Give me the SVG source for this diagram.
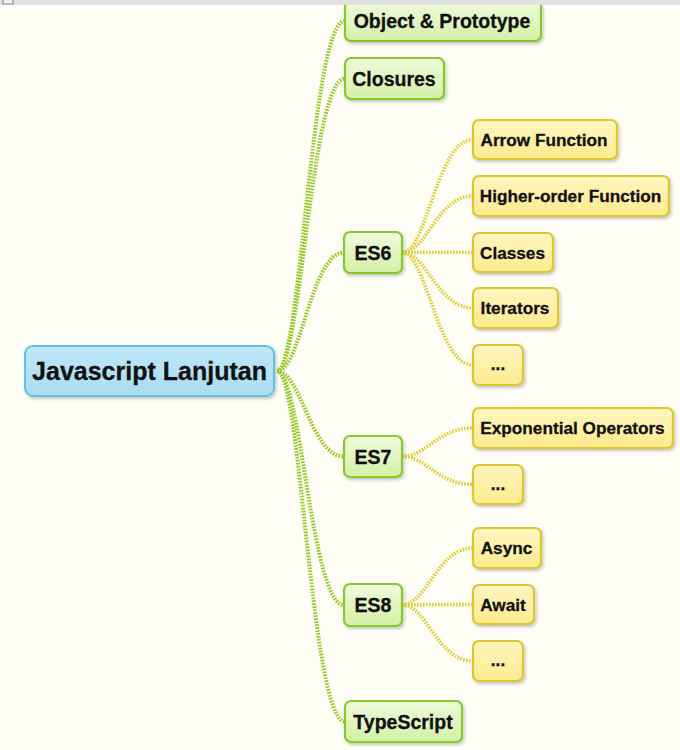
<svg xmlns="http://www.w3.org/2000/svg" width="680" height="750" viewBox="0 0 680 750">
<defs>
  <linearGradient id="gGreen" x1="0" y1="0" x2="0" y2="1">
    <stop offset="0" stop-color="#effbdd"/>
    <stop offset="1" stop-color="#d3f0a6"/>
  </linearGradient>
  <linearGradient id="gYellow" x1="0" y1="0" x2="0" y2="1">
    <stop offset="0" stop-color="#fff6c0"/>
    <stop offset="1" stop-color="#fdeb8e"/>
  </linearGradient>
  <linearGradient id="gBlue" x1="0" y1="0" x2="0" y2="1">
    <stop offset="0" stop-color="#bfe7f8"/>
    <stop offset="1" stop-color="#a9dcf3"/>
  </linearGradient>
  <filter id="sh" x="-10%" y="-20%" width="130%" height="160%">
    <feDropShadow dx="1.5" dy="2" stdDeviation="1.5" flood-color="#000" flood-opacity="0.22"/>
  </filter>
</defs>
<style>
  .root rect { fill: url(#gBlue); stroke: #5fc4e2; stroke-width: 2; filter: url(#sh); }
  .l1 rect { fill: url(#gGreen); stroke: #86c92c; stroke-width: 2.2; filter: url(#sh); }
  .l2 rect { fill: url(#gYellow); stroke: #dec729; stroke-width: 2.2; filter: url(#sh); }
  text { font-family: "Liberation Sans", Arial, Helvetica, sans-serif; font-weight: bold; fill: #111; text-anchor: middle; stroke: #111; stroke-width: 0.3; }
  .root text { font-size: 25px; }
  .l1 text { font-size: 19.5px; }
  .l2 text { font-size: 17.2px; }
  .c1 { fill: none; stroke: #98c92a; stroke-width: 4; stroke-dasharray: 1.7 1.3; }
  .c2 { fill: none; stroke: #e0cf3a; stroke-width: 3.6; stroke-dasharray: 1.7 1.3; }
</style>
<rect x="0" y="0" width="680" height="750" fill="#fefef7"/>

<g id="connectors">
  <path class="c1" d="M277,371 C301,371 311,21 345,21"/>
  <path class="c1" d="M277,371 C301,371 311,78.5 345,78.5"/>
  <path class="c1" d="M277,371 C301,371 311,252.5 344,252.5"/>
  <path class="c1" d="M277,371 C301,371 311,456.5 344,456.5"/>
  <path class="c1" d="M277,371 C301,371 311,605 344,605"/>
  <path class="c1" d="M277,371 C301,371 311,721.5 345,721.5"/>

  <path class="c2" d="M402,252.5 C427,252.5 437,139.5 473,139.5"/>
  <path class="c2" d="M402,252.5 C427,252.5 437,196 473,196"/>
  <path class="c2" d="M402,252.5 L473,252.5"/>
  <path class="c2" d="M402,252.5 C427,252.5 437,308 473,308"/>
  <path class="c2" d="M402,252.5 C427,252.5 437,365 473,365"/>

  <path class="c2" d="M402,456.5 C427,456.5 437,428 473,428"/>
  <path class="c2" d="M402,456.5 C427,456.5 437,484.5 473,484.5"/>

  <path class="c2" d="M402,605 C427,605 437,548 473,548"/>
  <path class="c2" d="M402,605 L473,604.5"/>
  <path class="c2" d="M402,605 C427,605 437,661 473,661"/>
</g>

<g id="root" class="root">
  <rect x="25" y="346" width="249" height="50" rx="8"/>
  <text x="149.5" y="380">Javascript Lanjutan</text>
</g>

<g id="object-prototype" class="l1">
  <rect x="345" y="1" width="196" height="40" rx="6"/>
  <text x="442" y="28">Object &amp; Prototype</text>
</g>
<g id="closures" class="l1">
  <rect x="345" y="58" width="99" height="41" rx="6"/>
  <text x="394" y="85.5">Closures</text>
</g>
<g id="es6" class="l1">
  <rect x="344" y="232" width="58" height="41" rx="6"/>
  <text x="373" y="259.5">ES6</text>
</g>
<g id="es7" class="l1">
  <rect x="344" y="436" width="58" height="41" rx="6"/>
  <text x="373" y="463.5">ES7</text>
</g>
<g id="es8" class="l1">
  <rect x="344" y="584" width="58" height="42" rx="6"/>
  <text x="373" y="611.5">ES8</text>
</g>
<g id="typescript" class="l1">
  <rect x="345" y="701" width="117" height="41" rx="6"/>
  <text x="403" y="728.5">TypeScript</text>
</g>

<g id="arrow-function" class="l2">
  <rect x="473" y="120" width="144" height="39" rx="6"/>
  <text x="544" y="145.5">Arrow Function</text>
</g>
<g id="higher-order-function" class="l2">
  <rect x="473" y="176" width="196" height="40" rx="6"/>
  <text x="570.5" y="202">Higher-order Function</text>
</g>
<g id="classes" class="l2">
  <rect x="473" y="233" width="80" height="39" rx="6"/>
  <text x="512.5" y="258.5">Classes</text>
</g>
<g id="iterators" class="l2">
  <rect x="473" y="288" width="85" height="40" rx="6"/>
  <text x="515" y="314">Iterators</text>
</g>
<g id="es6-more" class="l2">
  <rect x="473" y="345" width="50" height="40" rx="6"/>
  <text x="498" y="370">...</text>
</g>
<g id="exponential-operators" class="l2">
  <rect x="473" y="408" width="200" height="40" rx="6"/>
  <text x="572.5" y="434">Exponential Operators</text>
</g>
<g id="es7-more" class="l2">
  <rect x="473" y="465" width="50" height="39" rx="6"/>
  <text x="498" y="490">...</text>
</g>
<g id="async" class="l2">
  <rect x="473" y="528" width="68" height="40" rx="6"/>
  <text x="506.5" y="554">Async</text>
</g>
<g id="await" class="l2">
  <rect x="473" y="585" width="61" height="39" rx="6"/>
  <text x="503" y="610.5">Await</text>
</g>
<g id="es8-more" class="l2">
  <rect x="473" y="641" width="50" height="40" rx="6"/>
  <text x="498" y="666">...</text>
</g>

<rect x="0" y="0" width="680" height="5" fill="#e1e1e1"/>
<rect x="3" y="-1" width="10" height="5" fill="#f2f2f2" stroke="#8a8a8a" stroke-width="1"/>
</svg>
